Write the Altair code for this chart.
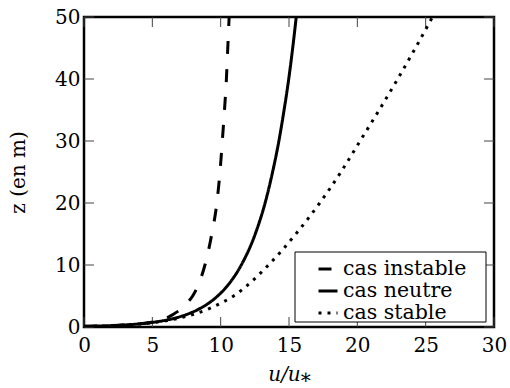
import altair as alt
import pandas as pd

# heights (m)
z_vals = [0.1, 0.2, 0.3, 0.5, 0.7, 1, 1.5, 2, 3, 4, 5, 7, 10, 15, 20, 25, 30, 35, 40, 45, 50]
# u/u* for each case
u_instable = [0, 1.72, 2.7, 3.93, 4.7, 5.45, 6.1, 6.5, 7.15, 7.6, 7.95, 8.4, 8.85, 9.35, 9.72, 9.95, 10.12, 10.28, 10.42, 10.52, 10.62]
u_neutre = [0, 1.73, 2.75, 4.02, 4.86, 5.76, 6.77, 7.49, 8.50, 9.22, 9.78, 10.62, 11.51, 12.53, 13.25, 13.80, 14.26, 14.64, 14.98, 15.27, 15.53]
u_stable = [0, 1.78, 2.82, 4.13, 5.0, 5.97, 7.1, 7.95, 9.2, 10.15, 10.95, 12.1, 13.5, 15.5, 17.25, 18.8, 20.2, 21.6, 22.95, 24.25, 25.5]

series = ["cas instable", "cas neutre", "cas stable"]
x_ticks = [0, 5, 10, 15, 20, 25, 30]
y_ticks = [0, 10, 20, 30, 40, 50]

rows = []
for name, us in zip(series, [u_instable, u_neutre, u_stable]):
    for zz, uu in zip(z_vals, us):
        rows.append({"cas": name, "u": uu, "z": zz})
df = pd.DataFrame(rows)
xt = pd.DataFrame({"u": x_ticks})
yt = pd.DataFrame({"z": y_ticks})

W, H = 410, 310
xs = alt.Scale(domain=[0, 30], nice=False, zero=False)
ys = alt.Scale(domain=[0, 50], nice=False, zero=False)

SERIF = "DejaVu Serif, serif"
x_axis = alt.Axis(values=x_ticks, title="u/u⁎", titleFontStyle="italic", labelPadding=8, titlePadding=9,
                  labelFlush=False, labelOverlap=False)
y_axis = alt.Axis(values=y_ticks, title="z (en m)", labelPadding=4, titlePadding=26,
                  labelFlush=False, labelOverlap=False)

lines = alt.Chart(df).mark_line(color="black", strokeWidth=3, clip=True, interpolate="monotone").encode(
    x=alt.X("u:Q", scale=xs, axis=x_axis),
    y=alt.Y("z:Q", scale=ys, axis=y_axis),
    strokeDash=alt.StrokeDash("cas:N", scale=alt.Scale(domain=series, range=[[13, 15], [1, 0], [3, 6]]),
                              legend=alt.Legend(title=None, orient="none", legendX=233, legendY=241,
                                                symbolType="stroke", symbolSize=361, symbolStrokeWidth=3,
                                                symbolStrokeColor="black", labelOffset=4, padding=0,
                                                rowPadding=-2, labelFont=SERIF, labelFontSize=20.5,
                                                labelColor="black")),
    order=alt.Order("z:Q"),
)

tick_style = dict(color="#444", strokeWidth=1)
bottom = alt.Chart(xt).mark_rule(**tick_style).encode(x=alt.X("u:Q", scale=xs, axis=x_axis), y=alt.value(H), y2=alt.value(H - 10))
top = alt.Chart(xt).mark_rule(**tick_style).encode(x=alt.X("u:Q", scale=xs, axis=x_axis), y=alt.value(0), y2=alt.value(10))
left = alt.Chart(yt).mark_rule(**tick_style).encode(y=alt.Y("z:Q", scale=ys, axis=y_axis), x=alt.value(0), x2=alt.value(10))
right = alt.Chart(yt).mark_rule(**tick_style).encode(y=alt.Y("z:Q", scale=ys, axis=y_axis), x=alt.value(W - 10), x2=alt.value(W))

legend_box = alt.Chart(xt.head(1)).mark_rect(fill="white", stroke="black", strokeWidth=1).encode(
    x=alt.value(211), x2=alt.value(402), y=alt.value(235), y2=alt.value(305)
)

chart = alt.layer(bottom, top, left, right, legend_box, lines).properties(
    width=W, height=H,
    autosize=alt.AutoSizeParams(type="none"),
    padding={"left": 84, "top": 17, "right": 16, "bottom": 61},
).configure_view(stroke="black", strokeWidth=2.5).configure_axis(
    grid=False, domain=False, ticks=False,
    labelFont=SERIF, labelFontSize=20, labelColor="black",
    titleFont=SERIF, titleFontSize=20, titleFontWeight="normal", titleColor="black",
)

chart.save("out.html", embed_options={"renderer": "svg", "actions": False})
